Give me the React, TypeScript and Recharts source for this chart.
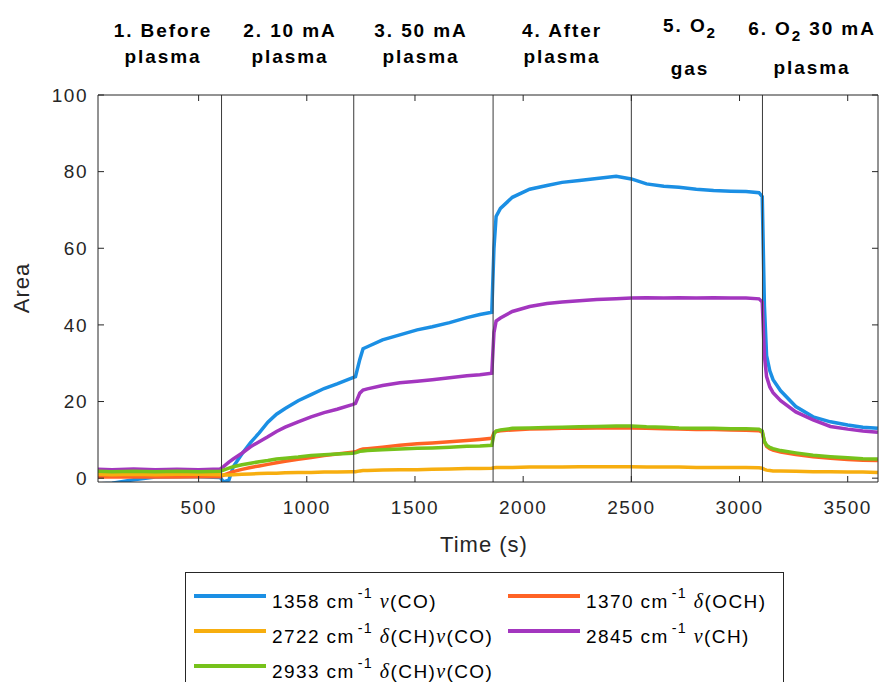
import React from "react";
import { LineChart, Line, XAxis, YAxis, ReferenceLine } from "recharts";

// time (s)
const time = [
  35, 100, 200, 300, 400, 500, 600, 615, 640, 660, 700, 740, 780, 820, 860, 900, 960, 1020, 1080, 1140,
  1210, 1225, 1245, 1260, 1280, 1350, 1430, 1510, 1580, 1660, 1740, 1800, 1855, 1865, 1875, 1895, 1950,
  2030, 2110, 2180, 2260, 2340, 2430, 2500, 2570, 2650, 2720, 2800, 2880, 2960, 3030, 3090, 3105, 3115,
  3125, 3140, 3155, 3190, 3260, 3340, 3420, 3500, 3570, 3639,
];

const a1358 = [
  -1.5, -1.3, -0.4, 0.3, 0.4, 0.4, 0.2, -1.0, -0.5, 3.0, 6.3, 9.3, 11.8, 14.6, 16.7, 18.2, 20.2, 21.8, 23.4, 24.6,
  26.2, 26.5, 31.0, 33.8, 34.3, 36.1, 37.4, 38.7, 39.5, 40.6, 41.9, 42.7, 43.3, 60.0, 68.3, 70.4, 73.3,
  75.4, 76.4, 77.2, 77.7, 78.2, 78.8, 78.1, 76.8, 76.2, 75.9, 75.4, 75.1, 74.9, 74.8, 74.5, 73.5, 45.0,
  32.0, 28.0, 25.7, 22.8, 18.7, 16.0, 14.7, 13.9, 13.3, 13.0,
];

const a1370 = [
  0.3, 0.4, 0.3, 0.4, 0.3, 0.4, 0.4, 0.8, 1.3, 1.7, 2.3, 2.8, 3.2, 3.6, 4.0, 4.4, 4.9, 5.4, 5.9, 6.3,
  6.8, 6.9, 7.4, 7.6, 7.7, 8.1, 8.6, 9.0, 9.2, 9.5, 9.8, 10.1, 10.4, 11.8, 12.2, 12.4, 12.6,
  12.8, 12.9, 13.0, 13.0, 13.1, 13.1, 13.1, 13.0, 12.9, 12.8, 12.7, 12.7, 12.6, 12.5, 12.4, 12.0, 9.5,
  8.3, 7.7, 7.3, 6.8, 6.2, 5.6, 5.2, 4.9, 4.7, 4.6,
];

const a2722 = [
  1.0, 0.9, 1.0, 0.9, 1.0, 1.0, 0.9, 0.8, 0.8, 0.9, 1.0, 1.1, 1.2, 1.3, 1.3, 1.4, 1.5, 1.5, 1.6, 1.6,
  1.7, 1.7, 1.9, 2.0, 2.0, 2.1, 2.2, 2.2, 2.3, 2.4, 2.5, 2.5, 2.6, 2.7, 2.8, 2.8, 2.8,
  2.9, 2.9, 2.9, 3.0, 3.0, 3.0, 3.0, 2.9, 2.9, 2.9, 2.8, 2.8, 2.8, 2.8, 2.7, 2.6, 2.3,
  2.1, 2.0, 1.9, 1.9, 1.8, 1.7, 1.7, 1.6, 1.6, 1.5,
];

const a2845 = [
  2.3, 2.2, 2.4, 2.2, 2.3, 2.2, 2.4, 3.0, 4.2, 5.0, 6.5, 8.2, 9.5, 10.8, 12.2, 13.3, 14.7, 16.0, 17.1, 18.0,
  19.2, 19.5, 22.2, 23.0, 23.3, 24.2, 24.9, 25.3, 25.7, 26.2, 26.7, 27.0, 27.4, 38.0, 41.0, 41.8, 43.5,
  44.8, 45.6, 46.0, 46.3, 46.6, 46.8, 47.0, 47.1, 47.0, 47.1, 47.0, 47.1, 47.0, 47.0, 46.8, 46.0, 32.0,
  26.5, 23.8, 22.3, 20.2, 17.3, 15.2, 13.5, 12.8, 12.3, 12.0,
];

const a2933 = [
  1.8, 1.7, 1.8, 1.7, 1.8, 1.7, 1.8, 2.1, 2.6, 3.0, 3.5, 3.9, 4.3, 4.6, 5.0, 5.2, 5.5, 5.9, 6.1, 6.3,
  6.5, 6.6, 7.0, 7.1, 7.2, 7.4, 7.6, 7.8, 7.9, 8.1, 8.3, 8.4, 8.6, 11.5, 12.3, 12.6, 13.0,
  13.1, 13.2, 13.3, 13.4, 13.5, 13.6, 13.6, 13.4, 13.3, 13.1, 13.0, 13.0, 12.9, 12.9, 12.8, 12.3, 9.6,
  8.6, 8.0, 7.7, 7.2, 6.6, 6.0, 5.6, 5.3, 5.1, 5.0,
];

const stepTimes = [606, 1217, 1861, 2500, 3106];
const xTicks = [500, 1000, 1500, 2000, 2500, 3000, 3500];
const yTicks = [0, 20, 40, 60, 80, 100];

const rows = time.map((t, i) => ({
  t,
  a: a1358[i],
  b: a1370[i],
  c: a2722[i],
  d: a2845[i],
  e: a2933[i],
}));

const C = {
  blue: "#1B8FE4",
  red: "#FF6325",
  yellow: "#F7AE0F",
  purple: "#A336BF",
  green: "#76C21B",
};

const axisColor = "#262626";
const font = "'Liberation Sans', Arial, sans-serif";

const sub = (s: string) => (
  <span style={{ fontSize: "0.8em", position: "relative", top: "0.4em" }}>{s}</span>
);

// baselines of the two lines of each phase label
const stepLabels: { x: number; l1: React.ReactNode; l2: string; b1: number; b2: number }[] = [
  { x: 163, l1: "1. Before", l2: "plasma", b1: 37, b2: 63 },
  { x: 290, l1: "2. 10 mA", l2: "plasma", b1: 37, b2: 63 },
  { x: 421, l1: "3. 50 mA", l2: "plasma", b1: 37, b2: 63 },
  { x: 562, l1: "4. After", l2: "plasma", b1: 37, b2: 63 },
  { x: 690, l1: <>5. O{sub("2")}</>, l2: "gas", b1: 32, b2: 75 },
  { x: 812, l1: <>6. O{sub("2")} 30 mA</>, l2: "plasma", b1: 35, b2: 74 },
];

const legendItems = [
  { color: C.blue, num: "1358", greek: "ν", rest: "(CO)", x: 194, y: 596 },
  { color: C.red, num: "1370", greek: "δ", rest: "(OCH)", x: 508, y: 596 },
  { color: C.yellow, num: "2722", greek: "δ", rest: "(CH)", greek2: "ν", rest2: "(CO)", x: 194, y: 631 },
  { color: C.purple, num: "2845", greek: "ν", rest: "(CH)", x: 508, y: 631 },
  { color: C.green, num: "2933", greek: "δ", rest: "(CH)", greek2: "ν", rest2: "(CO)", x: 194, y: 666 },
];

const greekStyle: React.CSSProperties = { fontFamily: "'Liberation Serif', serif", fontStyle: "italic", fontSize: "1.05em" };

export default function App() {
  const labelStyle: React.CSSProperties = {
    position: "absolute",
    transform: "translateX(-50%)",
    whiteSpace: "nowrap",
    fontWeight: "bold",
    fontSize: 19,
    letterSpacing: 1.9,
    color: "#000",
    lineHeight: "22px",
  };
  return (
    <div style={{ position: "absolute", left: 0, top: 0, width: 887, height: 682, background: "#fff", overflow: "hidden", fontFamily: font }}>
      <LineChart width={887} height={682} data={rows} margin={{ top: 94, right: 8, bottom: 170, left: 38 }}>
        <XAxis
          xAxisId="b"
          dataKey="t"
          type="number"
          domain={[35, 3640]}
          ticks={xTicks}
          allowDataOverflow
          height={30}
          stroke={axisColor}
          tickSize={-6}
          tickMargin={25}
          tick={{ fill: axisColor, fontSize: 19, fontFamily: font, letterSpacing: 1.5 }}
        />
        <XAxis
          xAxisId="t"
          orientation="top"
          dataKey="t"
          type="number"
          domain={[35, 3640]}
          ticks={xTicks}
          allowDataOverflow
          height={1}
          stroke={axisColor}
          tickSize={-6}
          tickFormatter={() => ""}
        />
        <YAxis
          yAxisId="l"
          type="number"
          domain={[-1, 100]}
          ticks={yTicks}
          allowDataOverflow
          width={60}
          stroke={axisColor}
          tickSize={-6}
          tickMargin={16}
          tick={{ fill: axisColor, fontSize: 19, fontFamily: font, letterSpacing: 1.5 }}
        />
        <YAxis
          yAxisId="r"
          orientation="right"
          type="number"
          domain={[-1, 100]}
          ticks={yTicks}
          allowDataOverflow
          width={1}
          stroke={axisColor}
          tickSize={-6}
          tickFormatter={() => ""}
        />
        <Line xAxisId="b" yAxisId="l" dataKey="a" stroke={C.blue} strokeWidth={3.5} dot={false} isAnimationActive={false} />
        <Line xAxisId="b" yAxisId="l" dataKey="b" stroke={C.red} strokeWidth={3.5} dot={false} isAnimationActive={false} />
        <Line xAxisId="b" yAxisId="l" dataKey="c" stroke={C.yellow} strokeWidth={3.5} dot={false} isAnimationActive={false} />
        <Line xAxisId="b" yAxisId="l" dataKey="d" stroke={C.purple} strokeWidth={3.5} dot={false} isAnimationActive={false} />
        <Line xAxisId="b" yAxisId="l" dataKey="e" stroke={C.green} strokeWidth={3.5} dot={false} isAnimationActive={false} />
        {stepTimes.map((s) => (
          <ReferenceLine key={s} xAxisId="b" yAxisId="l" x={s} stroke="#3a3a3a" strokeWidth={1} />
        ))}
      </LineChart>

      {stepLabels.map((s, i) => (
        <React.Fragment key={i}>
          <div style={{ ...labelStyle, left: s.x, top: s.b1 - 17 }}>{s.l1}</div>
          <div style={{ ...labelStyle, left: s.x, top: s.b2 - 17 }}>{s.l2}</div>
        </React.Fragment>
      ))}

      <div style={{ position: "absolute", left: 484, top: 532, transform: "translateX(-50%)", fontSize: 22, letterSpacing: 1, color: axisColor, whiteSpace: "nowrap", lineHeight: "26px" }}>
        Time (s)
      </div>
      <div style={{ position: "absolute", left: 22, top: 288, transform: "translate(-50%, -50%) rotate(-90deg)", fontSize: 22, letterSpacing: 1, color: axisColor, whiteSpace: "nowrap", lineHeight: "26px" }}>
        Area
      </div>

      <div style={{ position: "absolute", left: 185, top: 572, width: 597, height: 140, border: `1px solid ${axisColor}`, background: "#fff" }} />
      {legendItems.map((it) => (
        <div key={it.num} style={{ position: "absolute", left: it.x, top: it.y - 12, height: 24, whiteSpace: "nowrap", fontSize: 19, letterSpacing: 1.4, color: "#000" }}>
          <span style={{ position: "absolute", left: 0, top: 10, width: 72, height: 4, background: it.color }} />
          <span style={{ position: "absolute", left: 78, top: 5, lineHeight: "24px" }}>
            {it.num} cm<span style={{ fontSize: "0.75em", position: "relative", top: "-0.7em", marginLeft: 3 }}>-1</span>{" "}
            <span style={greekStyle}>{it.greek}</span>
            {it.rest}
            {it.greek2 ? <span style={greekStyle}>{it.greek2}</span> : null}
            {it.rest2 ?? ""}
          </span>
        </div>
      ))}
    </div>
  );
}
